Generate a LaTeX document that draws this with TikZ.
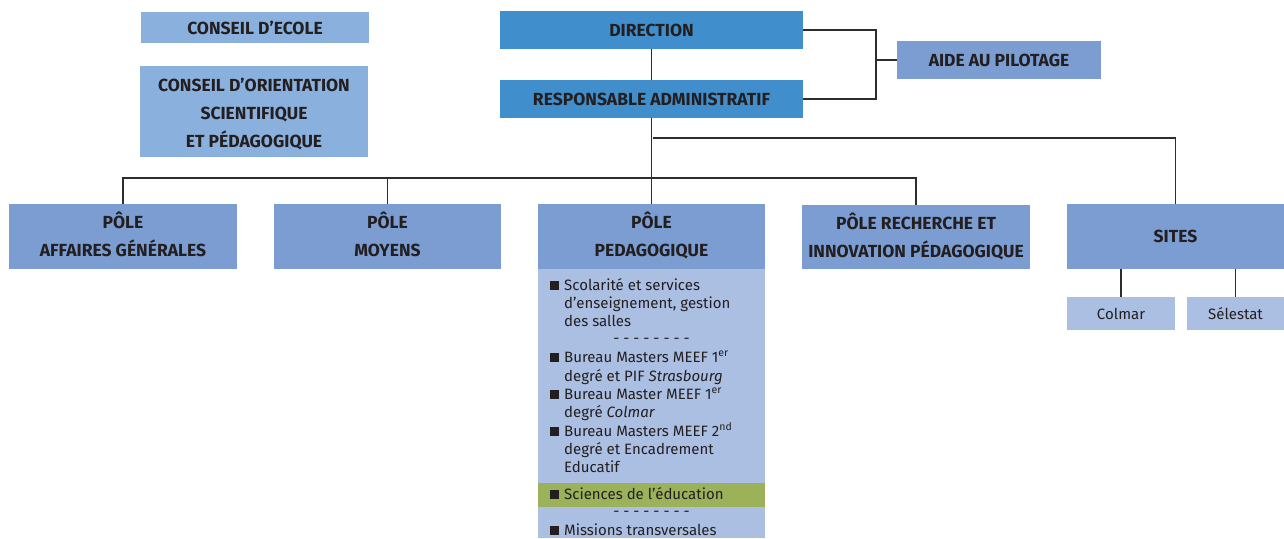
\documentclass[tikz,border=0pt]{standalone}
\usepackage{fontspec}
\setmainfont{Fira Sans}
\definecolor{dirblue}{RGB}{64,142,204}
\definecolor{poleblue}{RGB}{123,157,210}
\definecolor{conseilblue}{RGB}{138,176,221}
\definecolor{lightblue}{RGB}{171,191,227}
\definecolor{greenband}{RGB}{155,178,90}
\definecolor{txt}{RGB}{35,31,32}
\definecolor{linec}{RGB}{45,45,45}
\newcommand\bulmark{\makebox[14pt][l]{\raisebox{0.5pt}{\rule{8.5pt}{8.5pt}}}}
\begin{document}
\begin{tikzpicture}[x=1pt,y=-1pt,
  box/.style={inner sep=0pt, text=txt, align=center, font=\fontsize{17.5}{28}\selectfont\bfseries},
  twoline/.style={text depth=4pt},
  conn/.style={draw=linec, line width=1.7pt},
  item/.style={anchor=base west, inner sep=0pt, text=txt, font=\fontsize{15}{18}\selectfont},
  dashline/.style={anchor=base, inner sep=0pt, text=txt, font=\fontsize{15}{18}\selectfont},
  small/.style={inner sep=0pt, text=txt, font=\fontsize{15}{18}\selectfont}]
\useasboundingbox (0,0) rectangle (1284,538);
% boxes
\node[box, fill=conseilblue, minimum width=228pt, minimum height=31pt] (ce) at (255,27.5) {CONSEIL D’ECOLE};
\node[box, fill=conseilblue, minimum width=228pt, minimum height=91pt] (co) at (254,111.5) {\rule{0pt}{18pt}CONSEIL D’ORIENTATION\\SCIENTIFIQUE\\ET PÉDAGOGIQUE};
\node[box, fill=dirblue, minimum width=303pt, minimum height=38pt] (dir) at (651.5,30) {DIRECTION};
\node[box, fill=dirblue, minimum width=303pt, minimum height=38pt] (resp) at (651.5,99) {RESPONSABLE ADMINISTRATIF};
\node[box, fill=poleblue, minimum width=204pt, minimum height=38pt] (aide) at (999,60) {AIDE AU PILOTAGE};
\node[box, twoline, fill=poleblue, minimum width=228pt, minimum height=65pt] (paf) at (123,236.5) {PÔLE\\AFFAIRES GÉNÉRALES};
\node[box, twoline, fill=poleblue, minimum width=227pt, minimum height=65pt] (pmo) at (387.5,236.5) {PÔLE\\MOYENS};
\node[box, twoline, fill=poleblue, minimum width=227pt, minimum height=65pt] (pped) at (651.5,236.5) {PÔLE\\PEDAGOGIQUE};
\node[box, twoline, fill=poleblue, minimum width=228pt, minimum height=64pt] (prech) at (916,237) {PÔLE RECHERCHE ET\\INNOVATION PÉDAGOGIQUE};
\node[box, fill=poleblue, minimum width=217pt, minimum height=65pt] (sites) at (1175.5,236.5) {SITES};
\node[small, fill=lightblue, minimum width=108pt, minimum height=33pt] (colmar) at (1121,313.5) {Colmar};
\node[small, fill=lightblue, minimum width=97pt, minimum height=33pt] (sel) at (1235.5,313.5) {Sélestat};
% panel
\node[fill=lightblue, minimum width=227pt, minimum height=269pt, inner sep=0pt] (panel) at (651.5,403.5) {};
\node[fill=greenband, minimum width=227pt, minimum height=24pt, inner sep=0pt] (green) at (651.5,495) {};
% connectors
\coordinate (j) at (876,60);
\coordinate (h1) at (653,138);
\coordinate (h2) at (653,178);
\draw[conn] (dir.east) -| (j) |- (resp.east);
\draw[conn] (j) -- (aide.west);
\draw[conn] (dir.south) -- (resp.north);
\draw[conn] (resp.south) -- (pped.north);
\draw[conn] (h1) -| (sites.north);
\draw[conn] (paf.north) |- (h2) -| (prech.north);
\draw[conn] (pmo.north) -- (pmo.north |- h2);
\draw[conn] (sites.south -| colmar.north) -- (colmar.north);
\draw[conn] (sites.south -| sel.north) -- (sel.north);
% panel items
\node[item] (l1) at (550,290) {\bulmark Scolarité et services};
\node[item] (l2) at (564,308) {d’enseignement, gestion};
\node[item] (l3) at (564,326) {des salles};
\node[dashline] (d1) at (651.5,343) {-\ -\ -\ -\ -\ -\ -\ -};
\node[item] (l4) at (550,362) {\bulmark Bureau Masters MEEF 1\textsuperscript{er}};
\node[item] (l5) at (564,381) {degré et PIF \textit{Strasbourg}};
\node[item] (l6) at (550,399) {\bulmark Bureau Master MEEF 1\textsuperscript{er}};
\node[item] (l7) at (564,417) {degré \textit{Colmar}};
\node[item] (l8) at (550,436) {\bulmark Bureau Masters MEEF 2\textsuperscript{nd}};
\node[item] (l9) at (564,454) {degré et Encadrement};
\node[item] (l10) at (564,472) {Educatif};
\node[item] (l11) at (550,499) {\bulmark Sciences de l’éducation};
\node[dashline] (d2) at (651.5,516) {-\ -\ -\ -\ -\ -\ -\ -};
\node[item] (l12) at (550,535) {\bulmark Missions transversales};
\end{tikzpicture}
\end{document}
